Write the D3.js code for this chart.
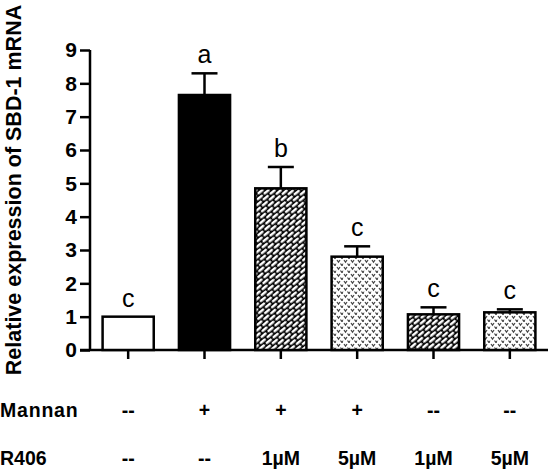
<!DOCTYPE html>
<html>
<head>
<meta charset="utf-8">
<script src="https://cdn.jsdelivr.net/npm/d3@7/dist/d3.min.js"></script>
<style>
  html, body { margin: 0; padding: 0; background: #fff; }
  svg { display: block; font-family: "Liberation Sans", Arial, sans-serif; }
</style>
</head>
<body>
<svg id="chart" width="551" height="469"></svg>
<script>
// ---- data ----
const categories = ["g1", "g2", "g3", "g4", "g5", "g6"];
const values = [1.0, 7.65, 4.85, 2.8, 1.07, 1.13];
const errors = [0, 0.65, 0.64, 0.31, 0.21, 0.09];
const letters = ["c", "a", "b", "c", "c", "c"];
const fills = ["white", "black", "brick", "dots", "brick", "dots"];
const mannanRow = ["--", "+", "+", "+", "--", "--"];
const r406Row = ["--", "--", "1\u00B5M", "5\u00B5M", "1\u00B5M", "5\u00B5M"];
const yTicks = [0, 1, 2, 3, 4, 5, 6, 7, 8, 9];
const yTitle = "Relative expression of SBD-1 mRNA";

const svg = d3.select("#chart");
const defs = svg.append("defs");

// brick-like slanted dash pattern (white dashes on black)
const brick = defs.append("pattern")
  .attr("id", "brick").attr("patternUnits", "userSpaceOnUse")
  .attr("width", 9).attr("height", 8)
  .attr("patternTransform", "rotate(-40)");
brick.append("rect").attr("width", 9).attr("height", 8).attr("fill", "#000");
brick.append("rect").attr("x", 0.8).attr("y", 1).attr("width", 7.4).attr("height", 2.4)
  .attr("rx", 1.2).attr("fill", "#fff");
brick.append("rect").attr("x", -3.7).attr("y", 5).attr("width", 7.4).attr("height", 2.4)
  .attr("rx", 1.2).attr("fill", "#fff");
brick.append("rect").attr("x", 5.3).attr("y", 5).attr("width", 7.4).attr("height", 2.4)
  .attr("rx", 1.2).attr("fill", "#fff");

// dotted "v" pattern (grey chevrons on white)
const dots = defs.append("pattern")
  .attr("id", "dots").attr("patternUnits", "userSpaceOnUse")
  .attr("width", 7).attr("height", 7);
dots.append("rect").attr("width", 7).attr("height", 7).attr("fill", "#fff");
dots.append("path").attr("d", "M1,1 L2.5,3.2 L4,1")
  .attr("fill", "none").attr("stroke", "#444").attr("stroke-width", 1.2);
dots.append("path").attr("d", "M4.5,4.5 L6,6.7 L7.5,4.5")
  .attr("fill", "none").attr("stroke", "#444").attr("stroke-width", 1.2);
dots.append("path").attr("d", "M-3,4.5 L-1.5,6.7 L0,4.5")
  .attr("fill", "none").attr("stroke", "#444").attr("stroke-width", 1.2);

function fillOf(f) {
  if (f === "brick") return "url(#brick)";
  if (f === "dots") return "url(#dots)";
  return f;
}

// ---- scales ----
const x = d3.scaleBand().domain(categories).range([90, 548])
  .paddingInner(0.33).paddingOuter(0.165);
const y = d3.scaleLinear().domain([0, 9]).range([350, 50]);

// ---- y axis ----
const yAxis = svg.append("g").attr("transform", "translate(90,0)")
  .call(d3.axisLeft(y).tickValues(yTicks).tickSize(10).tickPadding(3).tickFormat(d3.format("d")));
yAxis.select(".domain").attr("stroke", "#000").attr("stroke-width", 2.5)
  .attr("d", `M0,${y(9)}V${y(0)}`);
yAxis.selectAll(".tick line").attr("stroke", "#000").attr("stroke-width", 2.5);
yAxis.selectAll(".tick text").attr("fill", "#000").attr("font-size", 21)
  .attr("font-weight", "bold").attr("font-family", "Liberation Sans, Arial, sans-serif");

// ---- x axis baseline + ticks ----
const xAxis = svg.append("g").attr("transform", `translate(0,${y(0)})`)
  .call(d3.axisBottom(x).tickSize(9).tickFormat(""));
xAxis.select(".domain").attr("stroke", "#000").attr("stroke-width", 2.5)
  .attr("d", `M80,0H548`);
xAxis.selectAll(".tick line").attr("stroke", "#000").attr("stroke-width", 2.5);

// ---- error bars ----
const eg = svg.append("g");
categories.forEach((c, i) => {
  if (errors[i] <= 0) return;
  const cx = x(c) + x.bandwidth() / 2;
  eg.append("line").attr("x1", cx).attr("x2", cx)
    .attr("y1", y(values[i])).attr("y2", y(values[i] + errors[i]))
    .attr("stroke", "#000").attr("stroke-width", 2.5);
  eg.append("line").attr("x1", cx - 13).attr("x2", cx + 13)
    .attr("y1", y(values[i] + errors[i])).attr("y2", y(values[i] + errors[i]))
    .attr("stroke", "#000").attr("stroke-width", 2.5);
});

// ---- bars ----
svg.append("g").selectAll("rect").data(categories).join("rect")
  .attr("x", d => x(d))
  .attr("y", (d, i) => y(values[i]))
  .attr("width", x.bandwidth())
  .attr("height", (d, i) => y(0) - y(values[i]))
  .attr("fill", (d, i) => fillOf(fills[i]))
  .attr("stroke", "#000").attr("stroke-width", 2.5);

// ---- significance letters ----
svg.append("g").selectAll("text").data(categories).join("text")
  .attr("x", d => x(d) + x.bandwidth() / 2)
  .attr("y", (d, i) => y(values[i] + errors[i]) - 10)
  .attr("text-anchor", "middle").attr("font-size", 25).attr("fill", "#000")
  .text((d, i) => letters[i]);

// ---- y title ----
svg.append("text")
  .attr("transform", "translate(21,190) rotate(-90)")
  .attr("text-anchor", "middle").attr("font-size", 21.5).attr("font-weight", "bold")
  .attr("fill", "#000").text(yTitle);

// ---- treatment rows ----
const rows = svg.append("g").attr("font-size", 19.5).attr("font-weight", "bold").attr("fill", "#000");
rows.append("text").attr("x", 0).attr("y", 417).attr("letter-spacing", 0.8).text("Mannan");
rows.append("text").attr("x", 0).attr("y", 465).text("R406");
rows.selectAll(".m").data(categories).join("text").attr("class", "m")
  .attr("x", d => x(d) + x.bandwidth() / 2).attr("y", 417)
  .attr("text-anchor", "middle").text((d, i) => mannanRow[i]);
rows.selectAll(".r").data(categories).join("text").attr("class", "r")
  .attr("x", d => x(d) + x.bandwidth() / 2).attr("y", 465)
  .attr("text-anchor", "middle").text((d, i) => r406Row[i]);
</script>
</body>
</html>
